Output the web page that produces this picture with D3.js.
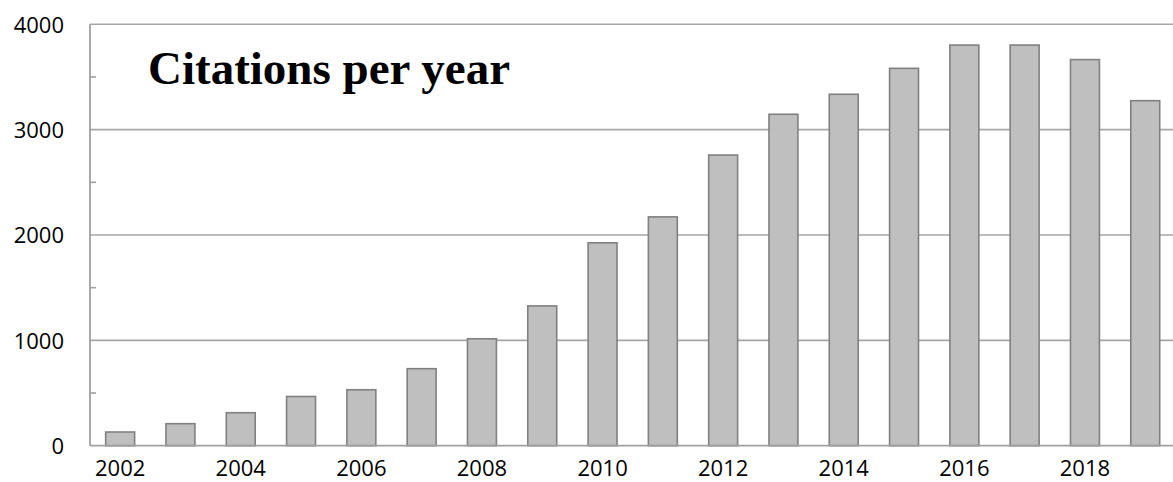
<!DOCTYPE html>
<html>
<head>
<meta charset="utf-8">
<script src="https://cdn.jsdelivr.net/npm/d3@7"></script>
<style>
  html, body { margin: 0; padding: 0; background: #ffffff; overflow: hidden; }
  svg { display: block; }
</style>
</head>
<body>
<svg id="chart" width="1173" height="482"></svg>
<script>
// ---- data ----
const years = [2002, 2003, 2004, 2005, 2006, 2007, 2008, 2009, 2010,
               2011, 2012, 2013, 2014, 2015, 2016, 2017, 2018, 2019];
const citations = [130, 209, 313, 467, 531, 731, 1015, 1327, 1926,
                   2172, 2759, 3146, 3336, 3582, 3803, 3803, 3665, 3275];
const yTicks = [0, 1000, 2000, 3000, 4000];
const yMinorTicks = [500, 1500, 2500, 3500];
const xTickLabels = [2002, 2004, 2006, 2008, 2010, 2012, 2014, 2016, 2018];
const title = "Citations per year";

// ---- layout ----
const svg = d3.select("#chart");
const plotLeft = 90, plotRight = 1175.4, plotTop = 24.3, plotBottom = 445.7;

const x = d3.scaleBand()
  .domain(years)
  .range([plotLeft, plotRight])
  .paddingInner(0.52)
  .paddingOuter(0.26);

const y = d3.scaleLinear()
  .domain([0, 4000])
  .range([plotBottom, plotTop]);

const gridColor = "#a6a6a6";
const axisColor = "#a0a0a0";

// gridlines
svg.append("g")
  .attr("class", "grid")
  .selectAll("line")
  .data(yTicks.filter(d => d > 0))
  .join("line")
  .attr("x1", plotLeft)
  .attr("x2", 1173)
  .attr("y1", d => y(d))
  .attr("y2", d => y(d))
  .attr("stroke", gridColor)
  .attr("stroke-width", 1.6);

// bars
svg.append("g")
  .selectAll("rect")
  .data(years.map((yr, i) => ({ yr, v: citations[i] })))
  .join("rect")
  .attr("x", d => x(d.yr))
  .attr("width", x.bandwidth())
  .attr("y", d => y(d.v))
  .attr("height", d => y(0) - y(d.v))
  .attr("fill", "#bfbfbf")
  .attr("stroke", "#808080")
  .attr("stroke-width", 1.6);

// y axis labels
const yAxis = d3.axisLeft(y)
  .tickValues(yTicks)
  .tickSize(0)
  .tickPadding(26)
  .tickFormat(d3.format("d"));
const gy = svg.append("g")
  .attr("transform", `translate(${plotLeft},0)`)
  .call(yAxis);
gy.select(".domain").remove();
gy.selectAll("text")
  .attr("font-family", "'Open Sans', 'Liberation Sans', sans-serif")
  .attr("font-size", 22)
  .attr("fill", "#000")
  .attr("dy", "0.36em");

// minor ticks (pointing inward)
svg.append("g")
  .selectAll("line")
  .data(yMinorTicks)
  .join("line")
  .attr("x1", plotLeft)
  .attr("x2", plotLeft + 6)
  .attr("y1", d => y(d))
  .attr("y2", d => y(d))
  .attr("stroke", axisColor)
  .attr("stroke-width", 1.6);

// axis lines
svg.append("line")
  .attr("x1", plotLeft).attr("x2", plotLeft)
  .attr("y1", y(4000)).attr("y2", y(0))
  .attr("stroke", axisColor).attr("stroke-width", 1.8);
svg.append("line")
  .attr("x1", plotLeft).attr("x2", 1173)
  .attr("y1", y(0)).attr("y2", y(0))
  .attr("stroke", axisColor).attr("stroke-width", 1.8);

// x axis labels
const xAxis = d3.axisBottom(x)
  .tickValues(xTickLabels)
  .tickSize(0)
  .tickPadding(15);
const gx = svg.append("g")
  .attr("transform", `translate(0,${plotBottom})`)
  .call(xAxis);
gx.select(".domain").remove();
gx.selectAll("text")
  .attr("font-family", "'Open Sans', 'Liberation Sans', sans-serif")
  .attr("font-size", 22)
  .attr("fill", "#000");

// title
svg.append("text")
  .attr("x", 148)
  .attr("y", 84)
  .attr("font-family", "'Liberation Serif', 'Times New Roman', serif")
  .attr("font-weight", "bold")
  .attr("font-size", 47)
  .attr("fill", "#000")
  .text(title);
</script>
</body>
</html>
